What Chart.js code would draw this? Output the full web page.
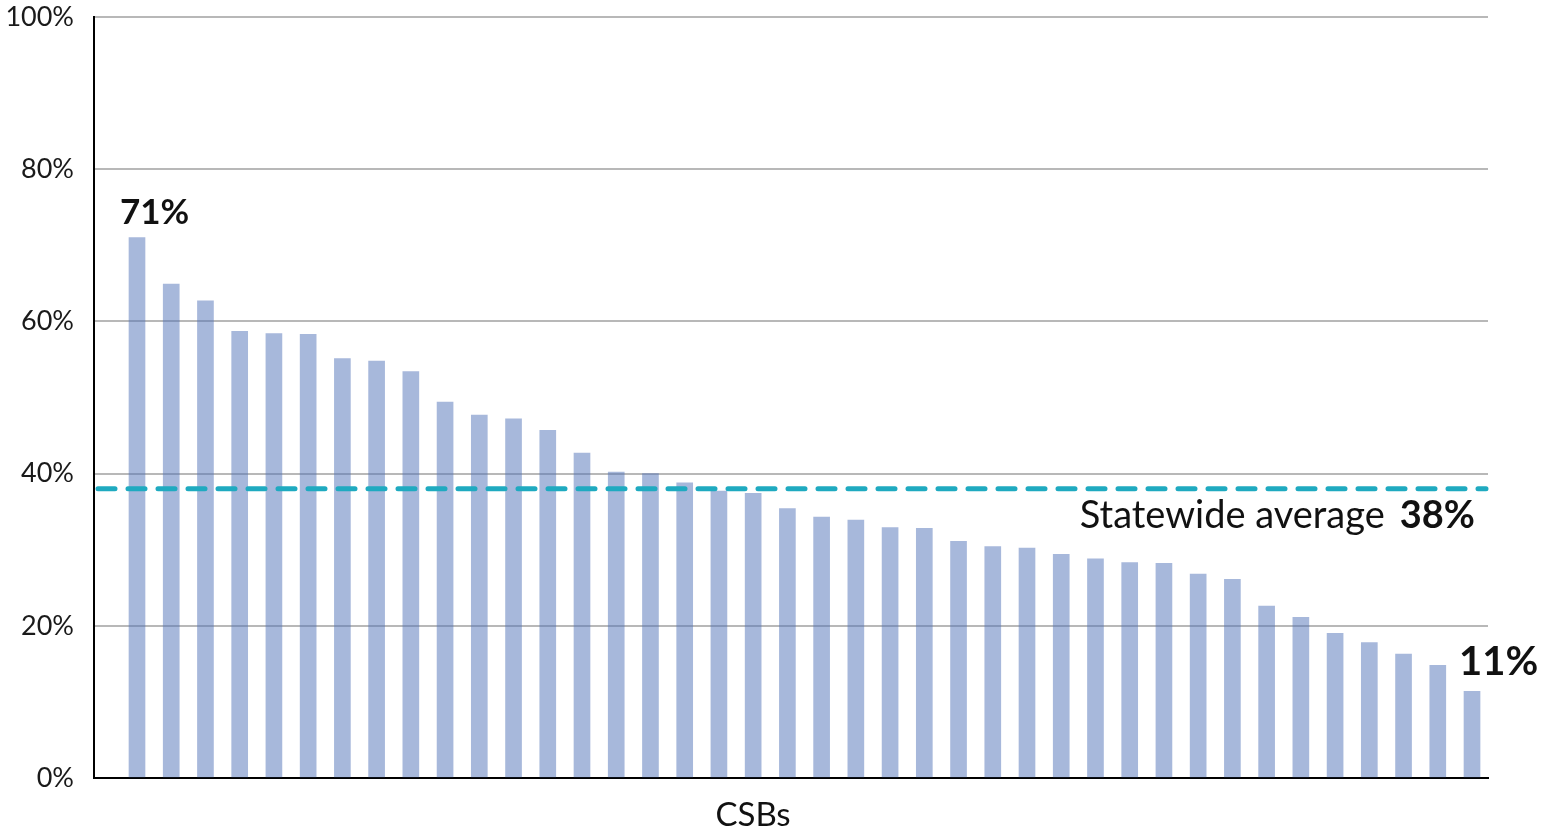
<!DOCTYPE html>
<html>
<head>
<meta charset="utf-8">
<script src="https://cdn.jsdelivr.net/npm/chart.js@4/dist/chart.umd.min.js"></script>
<style>
  html, body { margin: 0; padding: 0; background: #ffffff; }
  #wrap { width: 1547px; height: 830px; }
</style>
</head>
<body>
<div id="wrap"><canvas id="chart" width="1547" height="830"></canvas></div>
<script>
// CSBs ranked from highest to lowest rate (positions along the x axis)
const csbRank = [1, 2, 3, 4, 5, 6, 7, 8, 9, 10,
                 11, 12, 13, 14, 15, 16, 17, 18, 19, 20,
                 21, 22, 23, 24, 25, 26, 27, 28, 29, 30,
                 31, 32, 33, 34, 35, 36, 37, 38, 39, 40];

// Rate for each CSB, in percent
const rates = [71.0, 64.9, 62.7, 58.7, 58.4, 58.3, 55.1, 54.8, 53.4, 49.4,
               47.7, 47.2, 45.7, 42.7, 40.2, 40.0, 38.8, 37.7, 37.4, 35.4,
               34.3, 33.9, 32.9, 32.8, 31.1, 30.4, 30.2, 29.4, 28.8, 28.3,
               28.2, 26.8, 26.1, 22.6, 21.1, 19.0, 17.8, 16.3, 14.8, 11.4];

const statewideAverage = 38;
const yTickValues = [0, 20, 40, 60, 80, 100];
const axisTitle = 'CSBs';
const averageLabel = 'Statewide average';

const FONT = 'Lato, "Open Sans", "DejaVu Sans", sans-serif';

// Reference line for the statewide average plus the bold value callouts
const annotations = {
  id: 'annotations',
  afterDatasetsDraw(chart) {
    const { ctx, chartArea, scales } = chart;
    const y = scales.y.getPixelForValue(statewideAverage);

    ctx.save();
    // dashed average line
    ctx.strokeStyle = '#1FAAC0';
    ctx.lineWidth = 5;
    ctx.lineCap = 'round';
    ctx.setLineDash([17, 13]);
    ctx.beginPath();
    ctx.moveTo(chartArea.left + 4, y);
    ctx.lineTo(chartArea.right - 2, y);
    ctx.stroke();
    ctx.setLineDash([]);

    // "Statewide average 38%"
    ctx.fillStyle = '#111111';
    ctx.textBaseline = 'alphabetic';
    ctx.textAlign = 'right';
    const right = chartArea.right - 13;
    const base = y + 39;
    ctx.font = 'bold 38px ' + FONT;
    const avgText = Math.round(statewideAverage) + '%';
    ctx.fillText(avgText, right, base);
    const w = ctx.measureText(avgText).width;
    ctx.font = '38px ' + FONT;
    ctx.fillText(averageLabel, right - w - 15, base);

    // highest and lowest bar values
    const bars = chart.getDatasetMeta(0).data;
    const first = bars[0];
    const last = bars[bars.length - 1];
    ctx.textAlign = 'left';
    ctx.font = 'bold 35px ' + FONT;
    ctx.fillText(Math.round(rates[0]) + '%', first.x - 17, first.y - 14);
    ctx.font = 'bold 40px ' + FONT;
    ctx.fillText(Math.round(rates[rates.length - 1]) + '%', last.x - 13, last.y - 16);

    // x axis title
    ctx.textAlign = 'center';
    ctx.font = '33px ' + FONT;
    ctx.fillStyle = '#111111';
    ctx.fillText(axisTitle, 753, chart.height - 4);
    ctx.restore();
  }
};

new Chart(document.getElementById('chart'), {
  type: 'bar',
  data: {
    datasets: [{
      label: 'Rate',
      data: csbRank.map((r, i) => ({ x: r, y: rates[i] })),
      backgroundColor: 'rgba(79, 114, 184, 0.5)',
      borderWidth: 0,
      barThickness: 16
    }]
  },
  options: {
    responsive: false,
    animation: false,
    events: [],
    layout: { padding: { top: 17, right: 59, left: 0, bottom: 0 } },
    plugins: {
      legend: { display: false },
      tooltip: { enabled: false },
      title: { display: false }
    },
    scales: {
      x: {
        type: 'linear',
        min: -0.256,
        max: 40.467,
        offset: false,
        grid: { display: false, drawTicks: false },
        border: { display: true, color: '#000000', width: 2 },
        ticks: { display: false },
        afterFit(scale) {
          scale.height = 52;
          scale.paddingLeft = 0;
          scale.paddingRight = 0;
        }
      },
      y: {
        min: 0,
        max: 100,
        afterBuildTicks(scale) {
          scale.ticks = yTickValues.map(v => ({ value: v }));
        },
        grid: { color: '#B8B8B8', lineWidth: 2, drawTicks: false },
        border: { display: true, color: '#000000', width: 2 },
        ticks: {
          padding: 20,
          color: '#1A1A1A',
          font: { family: FONT, size: 27 },
          callback: v => v + '%'
        },
        afterFit(scale) {
          scale.width = 94;
          scale.paddingTop = 0;
          scale.paddingBottom = 0;
        }
      }
    }
  },
  plugins: [annotations]
});
</script>
</body>
</html>
